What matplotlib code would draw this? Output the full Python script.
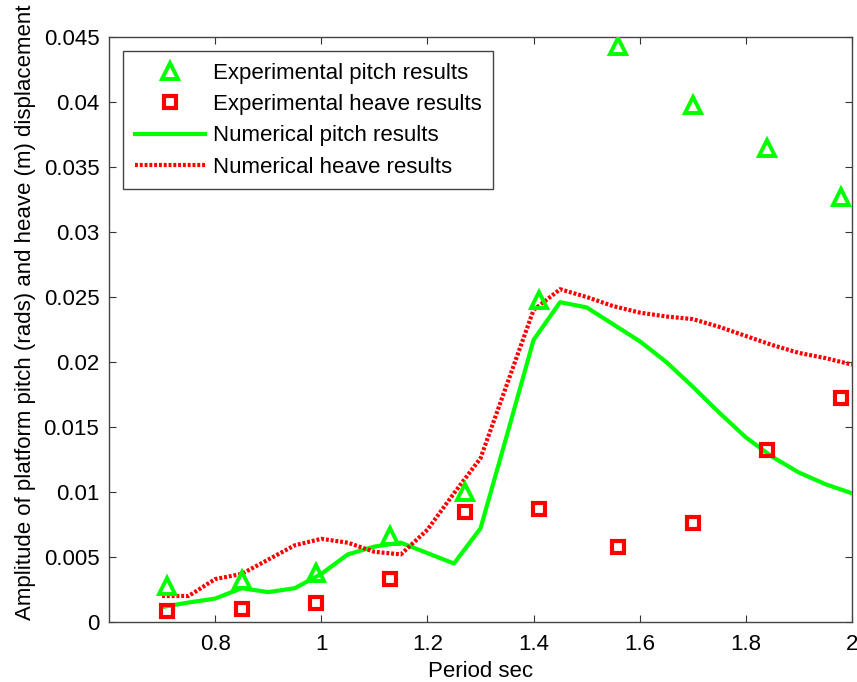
import matplotlib
matplotlib.use("Agg")
import matplotlib.pyplot as plt

plt.rcParams['font.family'] = ['Liberation Sans', 'DejaVu Sans']

# Experimental measurements
exp_period = [0.71, 0.85, 0.99, 1.13, 1.27, 1.41, 1.56, 1.70, 1.84, 1.98]
exp_pitch = [0.0028, 0.0032, 0.0038, 0.0066, 0.0100, 0.0248, 0.0443, 0.0398, 0.0365, 0.0327]
exp_heave = [0.00085, 0.0010, 0.0015, 0.0033, 0.0085, 0.0087, 0.0058, 0.0076, 0.0132, 0.0172]

# Numerical predictions
num_period = [0.70, 0.75, 0.80, 0.85, 0.90, 0.95, 1.00, 1.05, 1.10, 1.15, 1.20, 1.25, 1.30,
              1.35, 1.40, 1.45, 1.50, 1.55, 1.60, 1.65, 1.70, 1.75, 1.80, 1.85, 1.90, 1.95, 2.00]
num_pitch = [0.00115, 0.0015, 0.0018, 0.0026, 0.0023, 0.0026, 0.0037, 0.0052, 0.0058, 0.0061,
             0.0053, 0.0045, 0.0072, 0.0144, 0.0217, 0.0246, 0.0242, 0.0229, 0.0216, 0.0200,
             0.0181, 0.0161, 0.0142, 0.0127, 0.0115, 0.0106, 0.0099]
num_heave = [0.0020, 0.0020, 0.0033, 0.0037, 0.0048, 0.0059, 0.0064, 0.0061, 0.0054, 0.0052,
             0.0071, 0.0099, 0.0126, 0.0183, 0.0240, 0.0256, 0.0250, 0.0243, 0.0238, 0.0235,
             0.0233, 0.0227, 0.0220, 0.0213, 0.0207, 0.0203, 0.0198]

xticks = [0.8, 1.0, 1.2, 1.4, 1.6, 1.8, 2.0]
xticklabels = ['0.8', '1', '1.2', '1.4', '1.6', '1.8', '2']
yticks = [0, 0.005, 0.01, 0.015, 0.02, 0.025, 0.03, 0.035, 0.04, 0.045]
yticklabels = ['0', '0.005', '0.01', '0.015', '0.02', '0.025', '0.03', '0.035', '0.04', '0.045']

GREEN = '#00ff00'
RED = '#ff0000'
FS = 16

fig = plt.figure(figsize=(8.57, 6.82), dpi=100)
ax = fig.add_axes([109 / 857, 1 - 622 / 682, (852 - 109) / 857, (622 - 37) / 682])

ax.plot(exp_period, exp_pitch, linestyle='none', marker='^', ms=11, mfc='none',
        mec=GREEN, mew=2.8, label='Experimental pitch results', zorder=4)
ax.plot(exp_period, exp_heave, linestyle='none', marker='s', ms=8, mfc='none',
        mec=RED, mew=3.0, label='Experimental heave results', zorder=4)
ax.plot(num_period, num_pitch, color=GREEN, lw=3, label='Numerical pitch results', zorder=3)
ax.plot(num_period, num_heave, color=RED, lw=3, linestyle=(0, (0.7, 0.45)),
        label='Numerical heave results', zorder=3)

ax.set_xlim(0.6, 2.0)
ax.set_ylim(0, 0.045)
ax.set_xticks(xticks)
ax.set_xticklabels(xticklabels)
ax.set_yticks(yticks)
ax.set_yticklabels(yticklabels)
ax.tick_params(direction='in', length=5, width=0.8, top=True, right=True,
               labelsize=FS, color='#333333')
ax.tick_params(axis='x', pad=9)
ax.tick_params(axis='y', pad=7)
for s in ax.spines.values():
    s.set_color('#444444')
    s.set_linewidth(1.0)

ax.set_xlabel('Period sec', fontsize=FS, labelpad=4)
ax.set_ylabel('Amplitude of platform pitch (rads) and heave (m) displacement', fontsize=FS)
ax.yaxis.set_label_coords(-0.0985, 0.53)

leg = ax.legend(loc='upper left', fontsize=FS, frameon=True, fancybox=False,
                edgecolor='#444444', framealpha=1, handlelength=3.15, handletextpad=0.4,
                labelspacing=0.47, borderaxespad=0.65, borderpad=0.5)
leg.get_frame().set_linewidth(1.0)

fig.savefig('out.png', dpi=100)
